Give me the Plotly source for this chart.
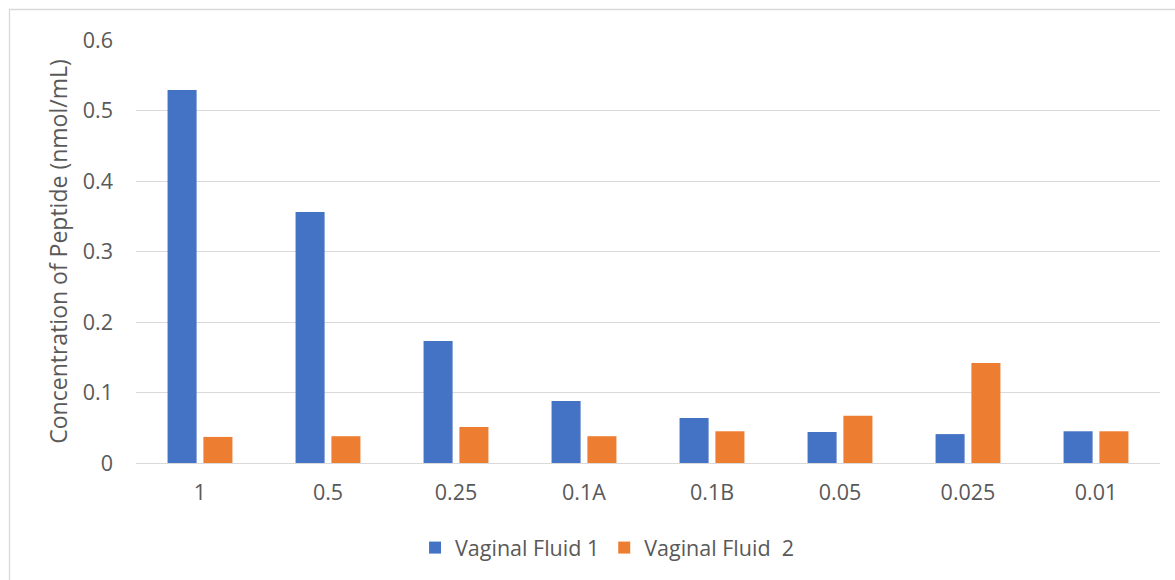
import plotly.graph_objects as go

categories = ["1", "0.5", "0.25", "0.1A", "0.1B", "0.05", "0.025", "0.01"]
fluid1 = [0.529, 0.356, 0.173, 0.088, 0.064, 0.044, 0.041, 0.045]
fluid2 = [0.037, 0.038, 0.051, 0.038, 0.045, 0.067, 0.142, 0.045]
series_names = ["Vaginal Fluid 1", "Vaginal Fluid  2"]
yticks = [0, 0.1, 0.2, 0.3, 0.4, 0.5, 0.6]
ytick_text = ["0", "0.1", "0.2", "0.3", "0.4", "0.5", "0.6"]

FONT = "'Open Sans', sans-serif"
TXT = "#595959"
FS = 21.5

fig = go.Figure()
fig.add_trace(go.Bar(x=categories, y=fluid1, name=series_names[0],
                     marker=dict(color="#4472C4", line=dict(width=0))))
fig.add_trace(go.Bar(x=categories, y=fluid2, name=series_names[1],
                     marker=dict(color="#ED7D31", line=dict(width=0))))

W, H = 1175, 580
L, R, T, B = 136, 15, 40, 117
pw, ph = W - L - R, H - T - B

fig.update_layout(
    width=W, height=H,
    margin=dict(l=L, r=R, t=T, b=B),
    paper_bgcolor="white", plot_bgcolor="white",
    barmode="group", bargap=0.44, bargroupgap=0.19,
    font=dict(family=FONT, color=TXT, size=FS),
    showlegend=True,
    legend=dict(orientation="h", x=0.46, xanchor="center", y=-0.2, yanchor="middle",
                font=dict(size=FS, color=TXT), itemwidth=30, traceorder="normal"),
    xaxis=dict(showgrid=False, showline=False, ticks="", tickfont=dict(size=FS, color=TXT),
               ticklabelstandoff=14),
    yaxis=dict(range=[0, 0.6], tickvals=yticks, ticktext=ytick_text,
               showgrid=True, gridcolor="#D9D9D9", gridwidth=1.3,
               zeroline=True, zerolinecolor="#D9D9D9", zerolinewidth=1.3,
               showline=False, ticks="", tickfont=dict(size=FS, color=TXT),
               ticklabelstandoff=22,
               title=dict(text="Concentration of Peptide (nmol/mL)", font=dict(size=23, color=TXT),
                          standoff=8)),
    shapes=[dict(type="rect", xref="paper", yref="paper",
                 x0=(9.5 - L) / pw, x1=(W + 20 - L) / pw,
                 y0=(H - B - (H + 20)) / ph, y1=(H - B - 9.5) / ph,
                 line=dict(color="#D9D9D9", width=1.3), fillcolor="rgba(0,0,0,0)", layer="below")],
)

fig.write_html("out.html")
